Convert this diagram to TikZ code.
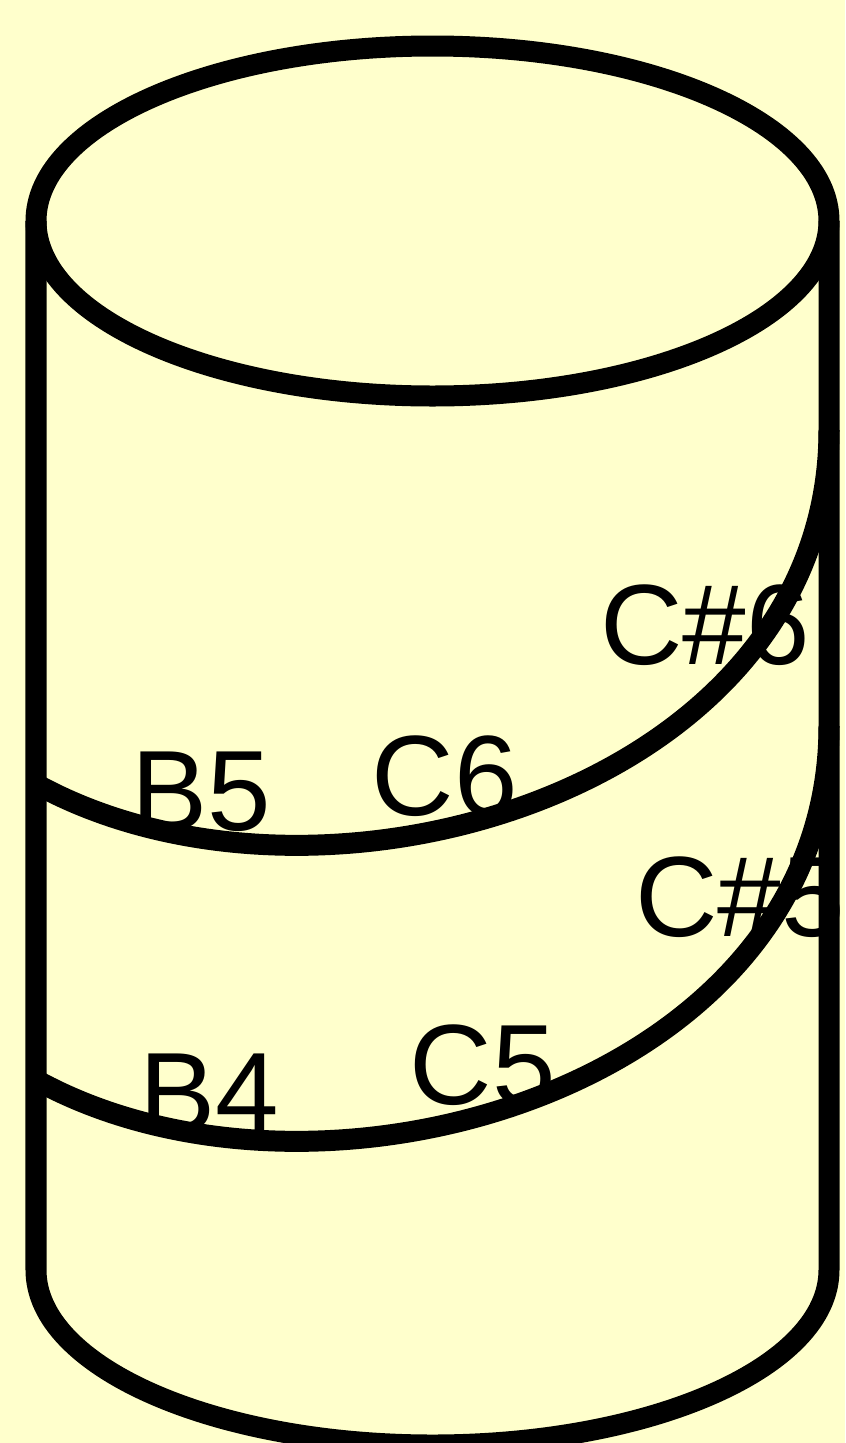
\documentclass[tikz,border=0pt]{standalone}
\usepackage{fontspec}
\setmainfont{Liberation Sans}
\usepackage{tikz}
\definecolor{paper}{HTML}{FFFFCC}
\tikzset{
  rim/.style={line width=0.21cm},
  turn/.style={line width=0.21cm},
  pitch/.style={inner sep=0pt, font=\fontsize{32.5}{38}\selectfont}
}

\begin{document}
\begin{tikzpicture}[x=1cm, y=-1cm]
		% paper
		\fill[paper] (0,0) rectangle (8.45,14.43);
		\clip (0,0) rectangle (8.45,14.43);
		% cylinder: top, walls, bottom
		\coordinate (T) at (4.325,2.21);
		\coordinate (TL) at (0.36,2.21);
		\coordinate (TR) at (8.29,2.21);
		\coordinate (BL) at (0.36,12.70);
		\draw[rim] (T) ellipse [x radius=3.965cm, y radius=1.75cm];
		\draw[rim] (TL) -- (BL) arc[start angle=180, end angle=360, x radius=3.965cm, y radius=1.75cm] -- (TR);
		% two turns of the helix
		\coordinate (A1) at (0.36,7.84);
		\coordinate (E1) at (8.29,4.30);
		\coordinate (A2) at (0.36,10.80);
		\coordinate (E2) at (8.29,7.26);
		\draw[turn] (A1) .. controls (3.20,9.40) and (8.29,7.90) .. (E1);
		\draw[turn] (A2) .. controls (3.20,12.36) and (8.29,10.86) .. (E2);
		% pitch names
		\node[pitch] (b5) at (2.01,7.92) {B5};
		\node[pitch] (c6) at (4.45,7.76) {C6};
		\node[pitch] (cs6) at (7.05,6.25) {C\#6};
		\node[pitch] (b4) at (2.09,10.93) {B4};
		\node[pitch] (c5) at (4.83,10.65) {C5};
		\node[pitch] (cs5) at (7.40,8.97) {C\#5};
	\end{tikzpicture}
\end{document}
